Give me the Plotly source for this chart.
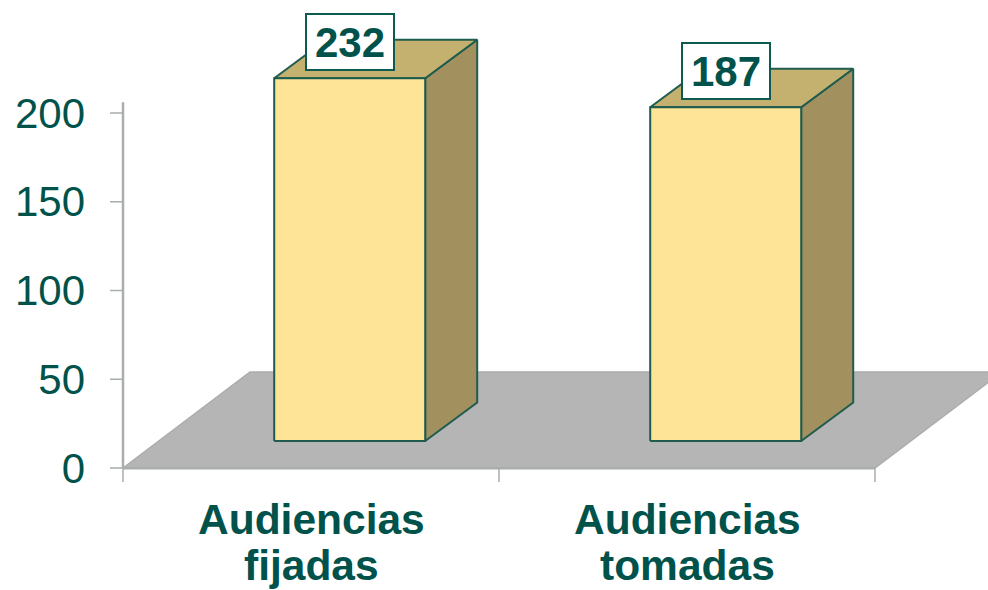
import plotly.graph_objects as go

category_lines = [["Audiencias", "fijadas"], ["Audiencias", "tomadas"]]
values = [232, 187]
axis_cap = 203.4  # the first bar is cut by the top of the axis
y_ticks = [0, 50, 100, 150, 200]

INK = "#00524a"
EDGE = "#1f5c4f"
AXIS = "#a9adab"
FONT = "Liberation Sans"
W, H = 988, 590
LEFT_PAD, BOTTOM_PAD = 15, 16
L, B = 123 - LEFT_PAD, 122 - BOTTOM_PAD
PX_X = 376.0    # px per category
PX_Y = 1.775    # px per value unit
X0, X1 = -0.5, 1.5
Y_AXIS_TOP = 206

def dx(p): return p / PX_X
def dy(p): return p / PX_Y

fig = go.Figure()

def poly(xs, ys, fill, line=None, lw=2):
    fig.add_trace(go.Scatter(
        x=xs, y=ys, mode="lines", fill="toself", fillcolor=fill,
        line=dict(color=line or fill, width=lw, shape="linear"),
        hoverinfo="skip", showlegend=False))

def axis_line(xs, ys, lw=2):
    fig.add_trace(go.Scatter(x=xs, y=ys, mode="lines", line=dict(color=AXIS, width=lw),
                             hoverinfo="skip", showlegend=False))

# axis lines, value ticks and category separators
axis_line([X0, X0], [0, Y_AXIS_TOP], 2.5)
for t in y_ticks:
    axis_line([X0 - dx(13), X0], [t, t], 1.5)
for xv in [X0, 0.5, X1]:
    axis_line([xv, xv], [0, dy(-14)], 1.5)

# floor
depth_x, depth_y = dx(127), dy(96)
poly([X0, X1, X1 + depth_x, X0 + depth_x, X0], [0, 0, depth_y, depth_y, 0],
     "#b5b5b5", AXIS, 1.5)
axis_line([X0, X1], [dy(-0.5), dy(-0.5)], 2)

off_x, half_w, base = dx(38.7), dx(75.5), dy(27)
bar_dx, bar_dy = dx(52), dy(38.5)
for i, v in enumerate(values):
    top = base + min(v, axis_cap) + 1
    a, b = i + off_x - half_w, i + off_x + half_w
    poly([b, b + bar_dx, b + bar_dx, b, b],
         [base, base + bar_dy, top + bar_dy, top, base], "#a2915f", EDGE)
    poly([a, b, b + bar_dx, a + bar_dx, a],
         [top, top, top + bar_dy, top + bar_dy, top], "#c4b16f", EDGE)
    poly([a, b, b, a, a], [base, base, top, top, base], "#fde496", EDGE)
    fig.add_annotation(
        x=i + off_x, y=top, yshift=36, xref="x", yref="y", text=f"<b>{v}</b>",
        showarrow=False, width=84, height=52, align="center", valign="middle",
        bgcolor="white", bordercolor="#0d5a50", borderwidth=2,
        font=dict(family=FONT, size=42, color=INK))

for i, lines in enumerate(category_lines):
    for j, line in enumerate(lines):
        fig.add_annotation(
            x=i, y=0, yshift=-51 - 46 * j, xref="x", yref="y", text=f"<b>{line}</b>",
            showarrow=False, xanchor="center", yanchor="middle",
            font=dict(family=FONT, size=42.5, color=INK))

fig.update_layout(
    width=W, height=H, margin=dict(l=L, r=0, t=0, b=B, autoexpand=False),
    paper_bgcolor="white", plot_bgcolor="rgba(0,0,0,0)", showlegend=False,
    font=dict(family=FONT, color=INK),
    xaxis=dict(range=[X0 - dx(LEFT_PAD), X0 + (W - 123) / PX_X], tickmode="array", tickvals=[],
               showgrid=False, zeroline=False, showline=False, automargin=False),
    yaxis=dict(range=[dy(-BOTTOM_PAD), (H - 122) / PX_Y], tickmode="array", tickvals=y_ticks,
               showgrid=False, zeroline=False, showline=False, automargin=False, ticks="",
               tickfont=dict(family=FONT, size=42, color=INK), ticklabelstandoff=22),
)

fig.write_html("out.html", config={"displayModeBar": False},
               post_script="document.body.style.margin='0';")
